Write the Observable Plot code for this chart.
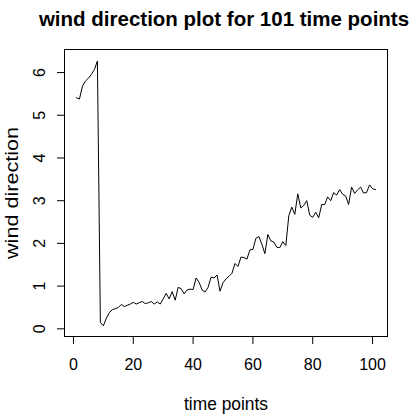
<!DOCTYPE html>
<html>
<head>
<meta charset="utf-8">
<script src="https://cdn.jsdelivr.net/npm/d3@7"></script>
<script src="https://cdn.jsdelivr.net/npm/@observablehq/plot@0.6"></script>
<style>
  html, body { margin: 0; padding: 0; background: #fff; }
</style>
</head>
<body>
<div id="chart"></div>
<script>
const titleText = "wind direction plot for 101 time points";
const xLabel = "time points";
const yLabel = "wind direction";
const xTicks = [0, 20, 40, 60, 80, 100];
const yTicks = [0, 1, 2, 3, 4, 5, 6];
const timePoints = [
  1,2,3,4,5,6,7,8,9,10,11,12,13,14,15,16,17,18,19,20,
  21,22,23,24,25,26,27,28,29,30,31,32,33,34,35,36,37,38,39,40,
  41,42,43,44,45,46,47,48,49,50,51,52,53,54,55,56,57,58,59,60,
  61,62,63,64,65,66,67,68,69,70,71,72,73,74,75,76,77,78,79,80,
  81,82,83,84,85,86,87,88,89,90,91,92,93,94,95,96,97,98,99,100,101
];
const windDirection = [
  5.41,5.38,5.68,5.80,5.87,5.96,6.07,6.27,0.15,0.07,
  0.25,0.38,0.45,0.47,0.50,0.57,0.52,0.55,0.58,0.62,
  0.58,0.61,0.64,0.59,0.61,0.64,0.58,0.63,0.58,0.70,
  0.83,0.70,0.87,0.67,0.97,0.94,0.82,0.91,0.93,0.92,
  1.19,1.09,0.91,0.86,0.97,1.21,1.19,1.26,0.88,1.08,
  1.17,1.23,1.30,1.53,1.46,1.68,1.67,1.63,1.85,1.86,
  2.12,2.16,1.98,1.76,2.21,2.06,2.03,1.91,1.90,2.04,
  1.95,2.65,2.85,2.68,3.16,2.83,2.89,3.00,2.66,2.61,
  2.73,2.60,2.91,2.91,3.09,3.00,3.19,3.13,3.26,3.15,
  3.11,2.91,3.32,3.17,3.25,3.32,3.18,3.19,3.37,3.28,3.26
];

const data = timePoints.map((t, i) => ({t, v: windDirection[i]}));
const font = "'Liberation Sans', Arial, Helvetica, sans-serif";

const chart = Plot.plot({
  width: 415,
  height: 415,
  marginLeft: 64,
  marginRight: 28,
  marginTop: 49,
  marginBottom: 79,
  style: {fontFamily: font, fontSize: "16px", color: "#000", background: "#fff", overflow: "visible"},
  x: {domain: [-3, 105]},
  y: {domain: [-0.18, 6.54]},
  marks: [
    Plot.frame({stroke: "#000", strokeWidth: 1}),
    Plot.line(data, {x: "t", y: "v", stroke: "#000", strokeWidth: 1}),
    Plot.axisX({ticks: xTicks, tickSize: 8, tickPadding: 14, label: null, stroke: "#000", fill: "#000", fontSize: 16}),
    Plot.axisY({ticks: yTicks, tickSize: 7, tickFormat: () => "", label: null, stroke: "#000"}),
    Plot.text(yTicks, {y: d => d, text: d => String(d), frameAnchor: "left", dx: -20, rotate: -90, textAnchor: "middle", lineAnchor: "bottom", fill: "#000", fontSize: 16}),
    Plot.text([titleText], {text: d => d, frameAnchor: "top", dx: -2, dy: -24, lineAnchor: "bottom", textAnchor: "middle", fontWeight: "bold", fontSize: 20.5, fill: "#000"}),
    Plot.text([xLabel], {text: d => d, frameAnchor: "bottom", dy: 73, lineAnchor: "bottom", textAnchor: "middle", fontSize: 19, fill: "#000"}),
    Plot.text([yLabel], {text: d => d, frameAnchor: "left", dx: -47, rotate: -90, lineAnchor: "bottom", textAnchor: "middle", fontSize: 19, fill: "#000"})
  ]
});

// narrow lettering of the axis titles, like the original device font
const fit = {[xLabel]: 84, [yLabel]: 132};
d3.select(chart).selectAll("text").each(function () {
  const t = this.textContent;
  if (fit[t] && this.childElementCount === 0) {
    this.setAttribute("textLength", fit[t]);
    this.setAttribute("lengthAdjust", "spacingAndGlyphs");
  }
});
document.getElementById("chart").appendChild(chart);
</script>
</body>
</html>
